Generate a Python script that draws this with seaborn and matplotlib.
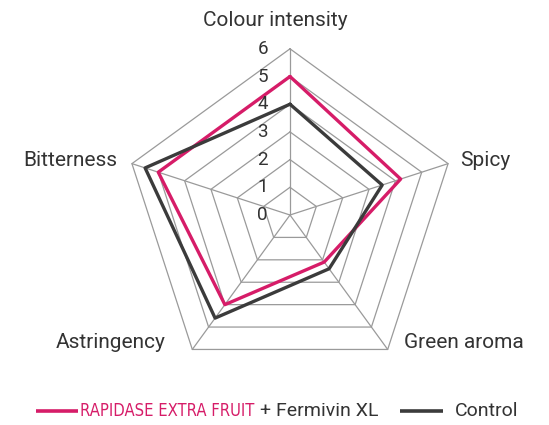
import numpy as np
import pandas as pd
import matplotlib.pyplot as plt
import seaborn as sns
from matplotlib import font_manager

# --- DATA ---
attributes = ["Colour intensity", "Spicy", "Green aroma", "Astringency", "Bitterness"]
rapidase = [5.0, 4.2, 2.1, 4.0, 5.0]
control = [4.0, 3.5, 2.4, 4.6, 5.5]
ticks = [0, 1, 2, 3, 4, 5, 6]

PINK = "#d61c68"
DARK = "#3b3b3b"
GRID = "#9a9a9a"
TEXT = "#333333"

sns.set_style("white")
plt.rcParams["font.family"] = ["Roboto", "DejaVu Sans"]

W, H = 549, 425
CX, CY = 290, 215       # pentagon centre in pixels (from top-left)
UNIT = 27.7             # pixels per score unit

fig = plt.figure(figsize=(W / 100, H / 100), dpi=100)
ax = fig.add_axes([0, 0, 1, 1])
ax.set_xlim(-CX / UNIT, (W - CX) / UNIT)
ax.set_ylim(-(H - CY) / UNIT, CY / UNIT)
ax.axis("off")

n = len(attributes)
angles = np.pi / 2 - np.arange(n) * 2 * np.pi / n


def to_xy(vals):
    vals = np.asarray(vals, dtype=float)
    x = np.append(vals * np.cos(angles), vals[0] * np.cos(angles[0]))
    y = np.append(vals * np.sin(angles), vals[0] * np.sin(angles[0]))
    return x, y


def px(x, y):
    return (x - CX) / UNIT, (CY - y) / UNIT


# pentagon grid + spokes
for k in ticks[1:]:
    gx, gy = to_xy([k] * n)
    ax.plot(gx, gy, color=GRID, lw=0.9, zorder=1)
rmax = max(ticks)
for a in angles:
    ax.plot([0, rmax * np.cos(a)], [0, rmax * np.sin(a)], color=GRID, lw=0.9, zorder=1)

# series
rows = []
for name, vals in [("rapidase", rapidase), ("control", control)]:
    x, y = to_xy(vals)
    for i, (xx, yy) in enumerate(zip(x, y)):
        rows.append({"series": name, "order": i, "x": xx, "y": yy})
df = pd.DataFrame(rows)

sns.lineplot(data=df, x="x", y="y", hue="series", units="series", estimator=None,
             sort=False, palette={"rapidase": PINK, "control": DARK},
             linewidth=2.4, legend=False, ax=ax, zorder=3)

# radial tick labels
for k in ticks:
    tx, ty = px(268, CY - k * UNIT)
    ax.text(tx, ty, str(k), ha="right", va="center", fontsize=13.5, color=TEXT, zorder=4)

# attribute labels
label_pos = [(275, 20, "center"), (460, 161, "left"), (404, 343, "left"),
             (166, 343, "right"), (117, 161, "right")]
for name, (lx, ly, ha) in zip(attributes, label_pos):
    x, y = px(lx, ly)
    ax.text(x, y, name, ha=ha, va="center", fontsize=15, color=TEXT)

# legend - brand name is set in a condensed regular face if one is installed
narrow = None
for f in font_manager.fontManager.ttflist:
    is_narrow = f.name in ("Roboto Condensed", "Liberation Sans Narrow") or \
        (f.name in ("Roboto", "DejaVu Sans") and "condensed" in str(f.stretch))
    if is_narrow and f.weight in (400, "normal", "regular") and f.style == "normal":
        narrow = f.fname
        break
brand_font = font_manager.FontProperties(fname=narrow) if narrow else \
    font_manager.FontProperties(family="Roboto")

y_leg = 411
x0, yl = px(36, y_leg)
x1, _ = px(78, y_leg)
ax.plot([x0, x1], [yl, yl], color=PINK, lw=2.6, solid_capstyle="butt")

tx, ty = px(80, y_leg)
brand = ax.text(tx, ty, "RAPIDASE EXTRA FRUIT", ha="left", va="center",
                color=PINK, fontproperties=brand_font, fontsize=15)
renderer = fig.canvas.get_renderer()
bw = brand.get_window_extent(renderer).width
brand.set_fontsize(15 * 175 / bw)

tx, ty = px(260, y_leg)
ax.text(tx, ty, "+ Fermivin XL", ha="left", va="center", fontsize=14, color=TEXT)
lx0, ly0 = px(400, y_leg)
lx1, _ = px(443, y_leg)
ax.plot([lx0, lx1], [ly0, ly0], color=DARK, lw=2.6, solid_capstyle="butt")
tx, ty = px(455, y_leg)
ax.text(tx, ty, "Control", ha="left", va="center", fontsize=14, color=TEXT)

fig.savefig("out.png", dpi=100)
